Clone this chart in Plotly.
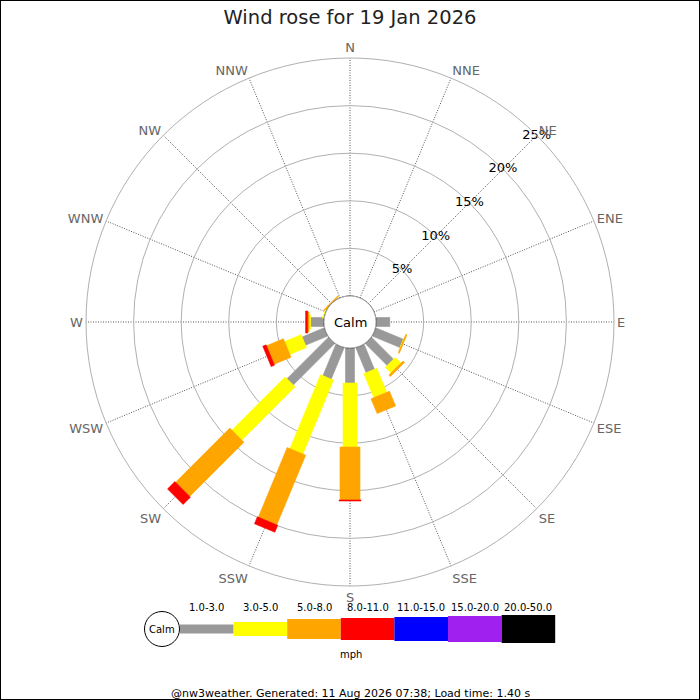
import math
import plotly.graph_objects as go

# ---------------- data ----------------
directions = ["N", "NNE", "NE", "ENE", "E", "ESE", "SE", "SSE",
              "S", "SSW", "SW", "WSW", "W", "WNW", "NW", "NNW"]
direction_deg = [0, 22.5, 45, 67.5, 90, 112.5, 135, 157.5,
                 180, 202.5, 225, 247.5, 270, 292.5, 315, 337.5]
speed_classes = ["1.0-3.0", "3.0-5.0", "5.0-8.0", "8.0-11.0",
                 "11.0-15.0", "15.0-20.0", "20.0-50.0"]
# percentage of time per direction, per speed class (mph)
pct_1_3 = [0, 0, 0, 0, 1.45, 3.14, 3.26, 2.84, 3.68, 3.57, 6.16, 2.52, 1.40, 0, 0, 0]
pct_3_5 = [0, 0, 0, 0, 0, 0.05, 0.84, 2.73, 6.72, 8.40, 7.92, 1.89, 0.18, 0.12, 0, 0]
pct_5_8 = [0, 0, 0, 0, 0, 0.12, 0.22, 1.68, 5.57, 7.93, 8.05, 1.92, 0.14, 0, 0.12, 0]
pct_8_11 = [0, 0, 0, 0, 0, 0, 0, 0, 0.10, 0.79, 1.09, 0.38, 0.21, 0, 0, 0]
pct_11_15 = [0, 0, 0, 0, 0, 0, 0, 0, 0, 0, 0, 0, 0, 0, 0, 0]
pct_15_20 = [0, 0, 0, 0, 0, 0, 0, 0, 0, 0, 0, 0, 0, 0, 0, 0]
pct_20_50 = [0, 0, 0, 0, 0, 0, 0, 0, 0, 0, 0, 0, 0, 0, 0, 0]
radial_ticks = [5, 10, 15, 20, 25]
radial_tick_labels = ["5%", "10%", "15%", "20%", "25%"]
unit_label = "mph"
title_text = "Wind rose for 19 Jan 2026"
footer_text = "@nw3weather. Generated: 11 Aug 2026 07:38; Load time: 1.40 s"

series = [pct_1_3, pct_3_5, pct_5_8, pct_8_11, pct_11_15, pct_15_20, pct_20_50]

# ---------------- style / geometry ----------------
class_colors = ["#999999", "#ffff00", "#ffa500", "#ff0000", "#0000ff", "#a020f0", "#000000"]
bar_px = [9, 14, 20, 22, 24, 26, 28]
W = H = 700
CX, CY = 350, 322          # centre of the rose in pixels (from top-left)
R_PX, HOLE_PX = 264, 26
RMAX = 25
S = (R_PX - HOLE_PX) / RMAX  # px per percent
FONT = "DejaVu Sans"

fig = go.Figure()


def rect(theta0, a, b, w):
    rs, ths = [], []
    for d, o in [(HOLE_PX + a * S, -w / 2), (HOLE_PX + b * S, -w / 2),
                 (HOLE_PX + b * S, w / 2), (HOLE_PX + a * S, w / 2),
                 (HOLE_PX + a * S, -w / 2)]:
        rp = math.hypot(d, o)
        rs.append((rp - HOLE_PX) / S)
        ths.append(theta0 + math.degrees(math.atan2(o, d)))
    return rs, ths


cum = [0.0] * len(directions)
for k, vals in enumerate(series):
    rr, tt = [], []
    for i, v in enumerate(vals):
        if v > 0:
            r, t = rect(direction_deg[i], cum[i], cum[i] + v, bar_px[k])
            rr += r + [None]
            tt += t + [None]
        cum[i] += v
    if rr:
        fig.add_trace(go.Scatterpolar(
            r=rr, theta=tt, mode="lines", fill="toself",
            fillcolor=class_colors[k], line=dict(color=class_colors[k], width=0.6),
            hoverinfo="skip", showlegend=False, cliponaxis=False, name=speed_classes[k]))

# calm circle at hole edge
fig.add_trace(go.Scatterpolar(
    r=[0] * 361, theta=list(range(361)), mode="lines",
    line=dict(color="black", width=1), hoverinfo="skip",
    showlegend=False, cliponaxis=False))

# radial tick labels centred on rings along NE
fig.add_trace(go.Scatterpolar(
    r=radial_ticks, theta=[45] * len(radial_ticks), mode="text",
    text=radial_tick_labels, textfont=dict(family=FONT, size=13, color="black"),
    hoverinfo="skip", showlegend=False, cliponaxis=False))

fig.update_layout(
    width=W, height=H, margin=dict(l=0, r=0, t=0, b=0),
    paper_bgcolor="white",
    title=dict(text=title_text, x=0.5, xanchor="center", y=1 - 17 / H, yanchor="middle",
               font=dict(family=FONT, size=19.5, color="#222222")),
    polar=dict(
        domain=dict(x=[(CX - R_PX) / W, (CX + R_PX) / W],
                    y=[(H - CY - R_PX) / H, (H - CY + R_PX) / H]),
        hole=HOLE_PX / R_PX,
        bgcolor="white",
        radialaxis=dict(range=[0, RMAX], tickvals=radial_ticks, showticklabels=False,
                        ticks="", showline=False, gridcolor="#b0b0b0", gridwidth=1,
                        angle=45),
        angularaxis=dict(type="linear", direction="clockwise", rotation=90,
                         tickmode="array", tickvals=direction_deg, ticktext=directions,
                         ticks="", showline=True, linecolor="#b0b0b0", linewidth=1,
                         gridcolor="#555555", gridwidth=1, griddash="1px,1.5px",
                         tickfont=dict(family=FONT, size=13, color="#666666")),
    ),
    font=dict(family=FONT),
)


def note(text, x, y, size, color="black"):
    fig.add_annotation(text=text, x=x / W, y=1 - y / H, xref="paper", yref="paper",
                       xanchor="center", yanchor="middle", showarrow=False,
                       font=dict(family=FONT, size=size, color=color))


# centre label
note("Calm", CX, CY, 13)

# ---------------- legend ----------------
LEG_Y = 629
LEG_X0 = 180
SEG = 53.6
fig.add_shape(type="circle", xref="paper", yref="paper",
              x0=(162 - 17.5) / W, x1=(162 + 17.5) / W,
              y0=1 - (LEG_Y + 17.5) / H, y1=1 - (LEG_Y - 17.5) / H,
              line=dict(color="black", width=1), fillcolor="white")
note("Calm", 162, LEG_Y, 10)
for k, lab in enumerate(speed_classes):
    x0 = LEG_X0 + k * SEG
    fig.add_shape(type="rect", xref="paper", yref="paper",
                  x0=x0 / W, x1=(x0 + SEG) / W,
                  y0=1 - (LEG_Y + bar_px[k] / 2) / H, y1=1 - (LEG_Y - bar_px[k] / 2) / H,
                  line=dict(width=0), fillcolor=class_colors[k])
    note(lab, x0 + SEG / 2, 607.5, 10)
note(unit_label, 351, 654, 10)
note(footer_text, 350, 693, 11)

# frame
fig.add_shape(type="rect", xref="paper", yref="paper", x0=0, x1=1, y0=0, y1=1,
              line=dict(color="black", width=2), fillcolor="rgba(0,0,0,0)")

fig.write_html("out.html", config={"displayModeBar": False},
               post_script="document.body.style.margin='0';document.body.style.overflow='hidden';")
